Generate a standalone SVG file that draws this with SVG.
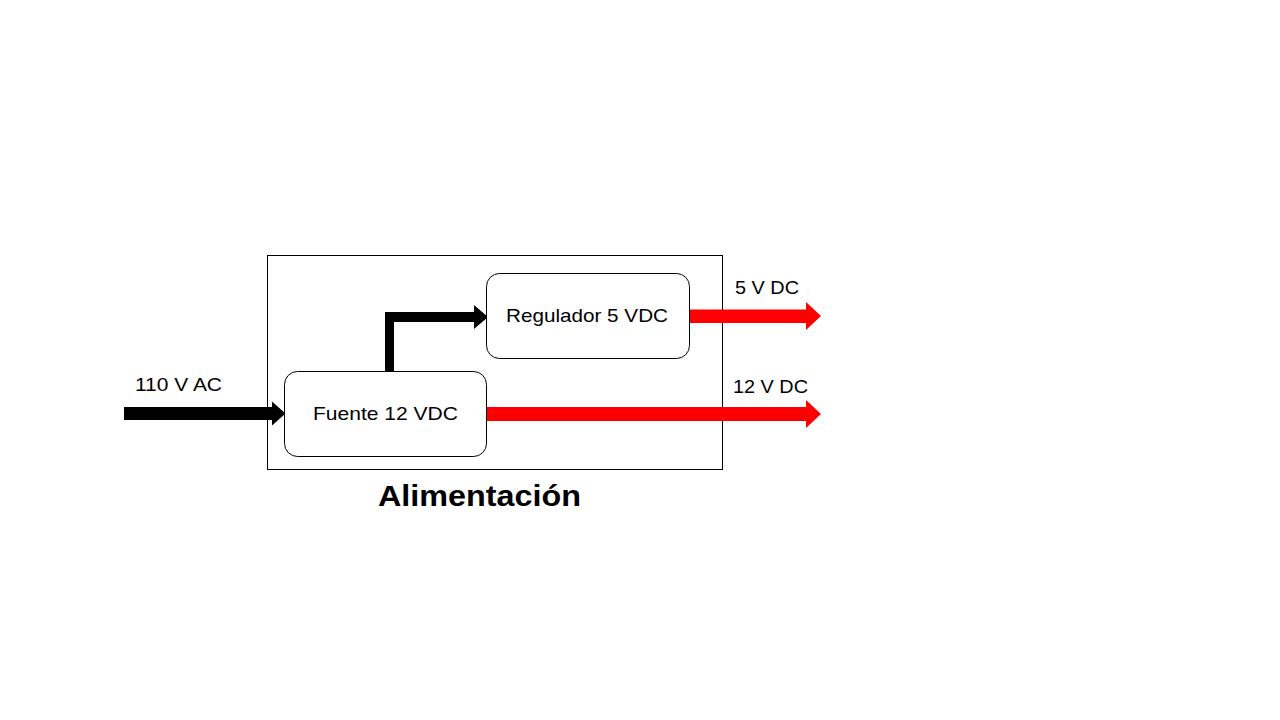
<svg xmlns="http://www.w3.org/2000/svg" width="1280" height="720" viewBox="0 0 1280 720">
<style>
.t{font-family:"Liberation Sans",Arial,sans-serif;font-size:19px;fill:#000}
.b{font-family:"Liberation Sans",Arial,sans-serif;font-size:30px;font-weight:bold;fill:#000}
.box{fill:#fff;stroke:#000;stroke-width:1}
</style>
<rect width="1280" height="720" fill="#fff"/>
<g id="alimentacion">
<rect x="267.5" y="255.5" width="455" height="214" fill="none" stroke="#000" stroke-width="1"/>
<text class="b" x="479.5" y="506" text-anchor="middle" textLength="203" lengthAdjust="spacingAndGlyphs">Alimentación</text>
</g>
<g id="connectors">
<polygon points="124,407 272,407 272,401.5 285.5,413.5 272,425.5 272,420 124,420" fill="#000"/>
<polygon points="385,371 385,312 474,312 474,305 488,317 474,329 474,322 394,322 394,371" fill="#000"/>
<polygon points="689,309.5 806,309.5 806,302 821,316 806,330 806,323 689,323" fill="#f00"/>
<polygon points="486,407 806,407 806,400 821,414 806,428 806,421 486,421" fill="#f00"/>
</g>
<g id="fuente">
<rect class="box" x="284.5" y="371.5" width="202" height="85" rx="13"/>
<text class="t" x="385.5" y="420" text-anchor="middle" textLength="145" lengthAdjust="spacingAndGlyphs">Fuente 12 VDC</text>
</g>
<g id="regulador">
<rect class="box" x="486.5" y="273.5" width="203" height="85" rx="13"/>
<text class="t" x="587" y="322" text-anchor="middle" textLength="162" lengthAdjust="spacingAndGlyphs">Regulador 5 VDC</text>
</g>
<g id="labels">
<text class="t" x="135" y="391" textLength="87" lengthAdjust="spacingAndGlyphs">110 V AC</text>
<text class="t" x="735" y="294" textLength="64" lengthAdjust="spacingAndGlyphs">5 V DC</text>
<text class="t" x="733" y="393" textLength="75" lengthAdjust="spacingAndGlyphs">12 V DC</text>
</g>
</svg>
